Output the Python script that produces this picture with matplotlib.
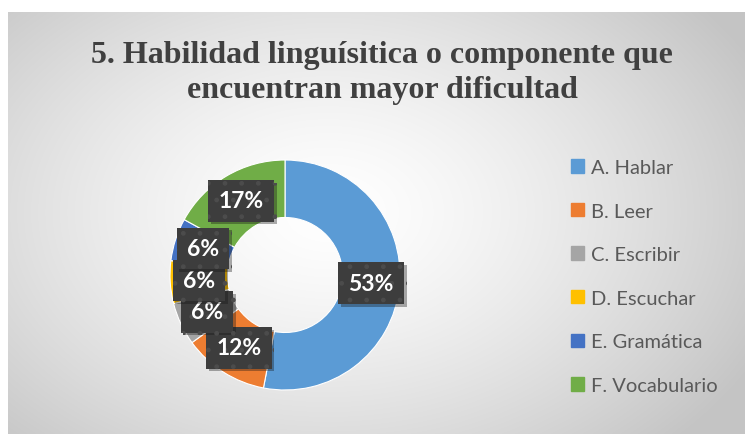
import numpy as np
import matplotlib.pyplot as plt
from matplotlib import patheffects as pe

# data
categories = ['A. Hablar', 'B. Leer', 'C. Escribir', 'D. Escuchar', 'E. Gramática', 'F. Vocabulario']
values = [53, 12, 6, 6, 6, 17]
colors = ['#5b9bd5', '#ed7d31', '#a5a5a5', '#ffc000', '#4472c4', '#70ad47']
title = '5. Habilidad linguísitica o componente que\nencuentran mayor dificultad'

W, H = 745, 435
fig = plt.figure(figsize=(W / 100, H / 100), dpi=100)
fig.patch.set_facecolor('white')

# chart area background with radial gradient
bg = fig.add_axes([8 / W, 0, 1 - 8 / W, 1 - 13 / H])
bg.set_axis_off()
ny, nx = 422, 737
yy, xx = np.mgrid[0:ny, 0:nx]
cx, cy = 320, 200
d = np.sqrt(((xx - cx) / 480.0) ** 2 + ((yy - cy) / 330.0) ** 2)
d = np.clip(d, 0, 1)
shade = 1.0 - 0.23 * d ** 1.4
bg.imshow(np.dstack([shade] * 3), aspect='auto', extent=[0, 1, 0, 1], origin='upper')
bg.set_xlim(0, 1)
bg.set_ylim(0, 1)

fig.text(382 / W, 1 - 73 / H, title, ha='center', va='center', fontsize=23,
         fontweight='bold', family='Liberation Serif', color='#404040', linespacing=1.3)

# donut
r_px = 115
cxp, cyp = 285, H - 276
ax = fig.add_axes([(cxp - r_px) / W, (cyp - r_px) / H, 2 * r_px / W, 2 * r_px / H])
wedges, _ = ax.pie(values, colors=colors, startangle=90, counterclock=False, radius=1,
                   wedgeprops=dict(width=0.5, edgecolor='white', linewidth=0.8))
ax.set_xlim(-1, 1)
ax.set_ylim(-1, 1)
ax.set_aspect('equal')

total = sum(values)
for w, v in zip(wedges, values):
    ang = np.deg2rad((w.theta1 + w.theta2) / 2)
    x, y = 0.75 * np.cos(ang), 0.75 * np.sin(ang)
    t = ax.text(x, y, f'{round(100 * v / total)}%', ha='center', va='center',
                fontsize=16.5, fontweight='bold', family='Lato', color='white',
                bbox=dict(boxstyle='square,pad=0.45', facecolor='#3d3d3d',
                          edgecolor='#4c4c4c', linewidth=0, hatch='.'))
    t.get_bbox_patch().set_path_effects([pe.SimplePatchShadow(offset=(2, -2), alpha=0.35),
                                         pe.Normal()])

# legend
handles = [plt.Rectangle((0, 0), 1, 1, color=c) for c in colors]
fig.legend(handles, categories, loc='upper left', bbox_to_anchor=(563 / W, 1 - 152 / H),
           frameon=False, prop=dict(family='Lato', size=14.5), labelcolor='#595959',
           handlelength=0.65, handleheight=0.65, handletextpad=0.35, labelspacing=1.32,
           borderaxespad=0)

fig.savefig('out.png', dpi=100)
